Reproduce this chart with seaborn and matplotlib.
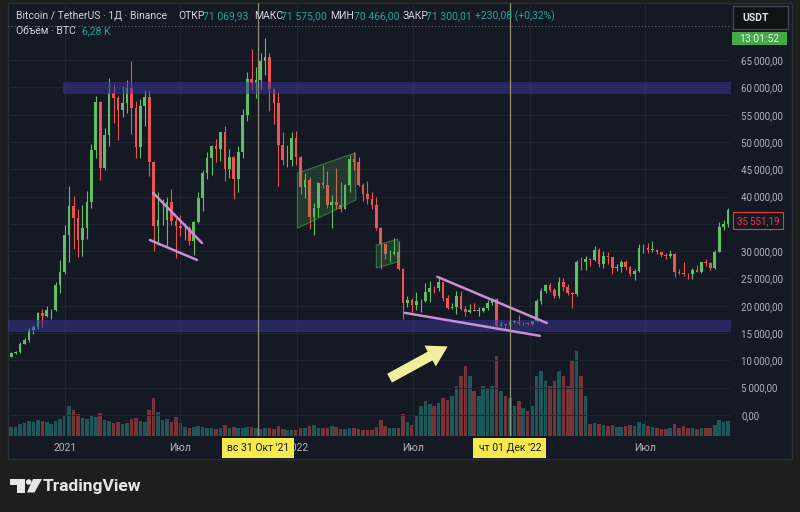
import numpy as np
import pandas as pd
import matplotlib
matplotlib.use("Agg")
import matplotlib.pyplot as plt
import matplotlib.dates as mdates
import matplotlib.transforms as mtransforms
from matplotlib.patches import Rectangle, Polygon, Ellipse
from matplotlib.ticker import FuncFormatter
import seaborn as sns

# BTC/USDT weekly candles (weeks start on Monday)
first_week = "2020-10-05"
first_open = 10670

close_2020 = [11380, 11500, 13030, 13800, 15480, 16050, 18700, 18180, 19150, 19250, 23800, 26270, 33000]
high_2020 = [11500, 11720, 13350, 14100, 15960, 16480, 18800, 19480, 19920, 19420, 24300, 28400, 34800]
low_2020 = [10530, 11200, 11400, 12980, 13290, 14850, 15800, 16200, 18000, 17600, 19000, 22400, 25900]

close_2021 = [38200, 36000, 32100, 34300, 39000, 48600, 57400, 45250, 51200, 59000, 58000, 55800, 57100,
              59800, 56200, 49000, 56600, 58200, 46400, 34700, 35700, 35800, 39000, 35500, 34700, 34200,
              34300, 31800, 35400, 39800, 44400, 47000, 49300, 48800, 51800, 45000, 47300, 43200, 48200,
              54900, 61500, 60800, 61300, 64900, 65500, 59700, 57200, 49400, 46700, 46700, 50800, 47300]
high_2021 = [41950, 40100, 37800, 38500, 40950, 49700, 58350, 57500, 52650, 61780, 60600, 58400, 60200,
             61300, 64850, 57500, 57900, 59500, 59600, 46600, 40800, 39500, 40000, 41300, 36000, 36600,
             35100, 34600, 35500, 40900, 44800, 48100, 49400, 50500, 51900, 52900, 48800, 47400, 49200,
             56100, 62900, 67000, 63700, 66300, 69000, 66300, 59900, 59200, 51900, 49500, 51900, 52100]
low_2021 = [28100, 30400, 28850, 29200, 32300, 37900, 47100, 43000, 44900, 49300, 53400, 50400, 54600,
            55400, 51500, 47000, 47100, 53000, 43800, 30000, 31200, 34800, 31000, 34800, 28800, 32700,
            32100, 31100, 29300, 35200, 37300, 43300, 43900, 46300, 46600, 42800, 43400, 39600, 40800,
            47100, 53900, 59500, 58000, 59500, 62300, 55600, 53300, 42000, 45700, 45500, 45600, 45700]

close_2022 = [41800, 43100, 36300, 37900, 42400, 42200, 38400, 39100, 38400, 37800, 42200, 46800, 46400,
              42100, 40400, 39500, 38500, 34300, 31300, 29400, 29400, 29900, 26800, 20500, 21000, 20200,
              20800, 20800, 22600, 23300, 23200, 24300, 21500, 19600, 19800, 21800, 19400, 18800, 19300,
              19100, 19100, 19600, 20600, 21300, 16300, 16700, 16500, 17100, 17100, 16800, 16840, 16620]
high_2022 = [47500, 44400, 43500, 38900, 42600, 45800, 44700, 40300, 45300, 42600, 42300, 47700, 48200,
             47200, 42500, 42900, 40800, 40000, 34400, 31400, 30200, 32400, 31800, 26900, 21800, 21500,
             22500, 21200, 24200, 24600, 23600, 25200, 24400, 21900, 20500, 22700, 22700, 19900, 20400,
             20500, 19700, 19700, 21000, 21500, 21500, 17200, 16900, 17400, 17400, 18400, 17000, 16970]
low_2022 = [40500, 39700, 34000, 32900, 36300, 41600, 38000, 34300, 37800, 37200, 38100, 40900, 44800,
            41900, 39200, 38600, 37700, 33800, 26700, 28600, 28100, 29300, 26500, 17600, 19700, 18800,
            19300, 18900, 20700, 20700, 22400, 22700, 20800, 19500, 19500, 18500, 19300, 18100, 18700,
            19000, 18200, 18900, 19200, 20100, 15600, 16200, 15500, 16000, 16900, 16500, 16400, 16400]

close_2023 = [17130, 20880, 22700, 23750, 22950, 21850, 24300, 23500, 22400, 22100, 28000, 27950, 28500,
              28300, 30300, 27600, 29200, 28900, 26900, 27100, 28100, 27100, 25800, 26300, 30500, 30600,
              30300, 30300, 29800, 29300, 29100, 29400, 26100, 26000, 25900, 25800, 26600, 26200, 28000,
              27900, 26900, 29900, 34500, 35000, 37500]
high_2023 = [17200, 21200, 23300, 23900, 24250, 23200, 25250, 25000, 23900, 22600, 28400, 28900, 29200,
             28800, 31000, 30500, 30000, 29800, 29000, 27600, 28400, 28400, 27200, 26800, 31400, 31300,
             31500, 31800, 30400, 29900, 29700, 30200, 29600, 26800, 28100, 26000, 26900, 27500, 28000,
             28600, 28000, 30300, 35300, 35800, 37950]
low_2023 = [16500, 17100, 20400, 22300, 22600, 21400, 21500, 22800, 21950, 19600, 21800, 26600, 26500,
            27300, 28200, 27100, 26950, 27700, 25800, 26400, 26100, 26500, 25400, 24800, 26200, 29600,
            29700, 29900, 29500, 28900, 28600, 28800, 25200, 25800, 25400, 24900, 24900, 26200, 26000,
            27200, 26600, 26800, 29800, 33900, 34500]

# average daily volume of each week, thousand BTC
vol_2020 = [45, 45, 60, 65, 75, 70, 80, 75, 70, 60, 75, 85, 100]
vol_2021 = [150, 130, 110, 90, 85, 100, 95, 115, 80, 75, 65, 70, 60, 65, 85, 90, 75, 70, 130, 190, 120, 80,
            85, 70, 95, 65, 45, 40, 45, 50, 45, 40, 38, 35, 40, 55, 40, 45, 40, 42, 45, 45, 38, 35, 38, 42,
            35, 48, 35, 32, 30, 30]
vol_2022 = [40, 38, 50, 55, 40, 42, 40, 48, 45, 35, 35, 40, 38, 35, 30, 30, 32, 45, 80, 50, 40, 38, 42, 110,
            70, 55, 100, 150, 175, 160, 150, 165, 190, 180, 200, 250, 300, 350, 300, 225, 200, 250, 240, 250,
            400, 225, 200, 190, 150, 175, 140, 125]
vol_2023 = [150, 300, 325, 275, 250, 275, 325, 300, 250, 375, 425, 300, 200, 60, 65, 60, 55, 50, 55, 45, 45,
            50, 55, 50, 70, 60, 50, 45, 40, 35, 35, 40, 60, 40, 50, 40, 40, 35, 40, 40, 40, 55, 80, 70, 75]

price_ticks = list(range(0, 65001, 5000))
tick_dates = ["2021-01-01", "2021-07-01", "2022-01-01", "2022-07-01", "2023-01-01", "2023-07-01"]
tick_labels = ["2021", "Июл", "2022", "Июл", "2023", "Июл"]
cross_dates = ["2021-10-31", "2022-12-01"]
cross_labels = ["вс 31 Окт '21", "чт 01 Дек '22"]
last_price = 71300.01
hover_price = 35551.19

header_parts = [(16, "Bitcoin / TetherUS · 1Д · Binance", 0), (178, "ОТКР", 0), (203, "71 069,93", 1),
                (254, "МАКС", 0), (281, "71 575,00", 1), (330, "МИН", 0), (354, "70 466,00", 1),
                (403, "ЗАКР", 0), (426, "71 300,01", 1), (475, "+230,08 (+0,32%)", 1)]
volume_parts = [(16, "Объём · BTC", 0), (82, "6,28 K", 1)]

# colours
OUTER = "#1e1e1e"
PANEL = "#151924"
GRID = "#222634"
TXT = "#b2b5be"
UP, DOWN = "#5fbf63", "#ef5350"
VOL_UP, VOL_DOWN = "#26a69a", "#ef5350"
ZONE = "#3a35a0"

close = np.array(close_2020 + close_2021 + close_2022 + close_2023, dtype=float)
high = np.array(high_2020 + high_2021 + high_2022 + high_2023, dtype=float)
low = np.array(low_2020 + low_2021 + low_2022 + low_2023, dtype=float)
volume = np.array(vol_2020 + vol_2021 + vol_2022 + vol_2023, dtype=float)
opens = np.concatenate([[first_open], close[:-1]])
high = np.maximum(high, np.maximum(opens, close))
low = np.minimum(low, np.minimum(opens, close))

weeks = pd.date_range(first_week, periods=len(close), freq="7D")
xs = mdates.date2num(weeks + pd.Timedelta(days=3))
up = close >= opens


def d(s):
    return mdates.date2num(pd.Timestamp(s))


W, H = 800, 512


def fx(px):
    return px / W


def fy(py):
    return 1 - py / H


sns.set_theme(style="dark")
plt.rcParams["font.family"] = ["Roboto", "DejaVu Sans"]

fig = plt.figure(figsize=(8, 5.12), dpi=100, facecolor=OUTER)
fig.patches.append(Rectangle((fx(8), fy(459)), (792 - 8) / W, (459 - 3) / H, transform=fig.transFigure,
                             facecolor=PANEL, edgecolor="#2a2e39", lw=1, zorder=-5))

pos = [fx(8), fy(436), (730 - 8) / W, (436 - 3) / H]
ax_v = fig.add_axes(pos)
ax = fig.add_axes(pos)
xlim = (d("2020-10-03"), d("2023-11-12"))

# volume pane
vol_df = pd.DataFrame({"x": xs, "vol": volume, "dir": np.where(up, "up", "down")})
sns.barplot(data=vol_df, x="x", y="vol", hue="dir", palette={"up": VOL_UP, "down": VOL_DOWN},
            native_scale=True, dodge=False, saturation=1, errorbar=None, legend=False,
            width=0.8, alpha=0.45, linewidth=0, ax=ax_v)
ax_v.set_xlim(xlim)
ax_v.set_ylim(0, 2165)
ax_v.set_axis_off()

# candles
colors = np.where(up, UP, DOWN)
ax.vlines(xs, low, high, colors=colors, lw=0.8, zorder=3)
body = np.maximum(np.abs(close - opens), 80)
ax.bar(xs, body, bottom=np.minimum(opens, close), width=4.2, color=colors, linewidth=0, zorder=4)

ax.patch.set_alpha(0)
for s in ax.spines.values():
    s.set_visible(False)
ax.set_xlim(xlim)
ax.set_ylim(-3850, 75460)
ax.set_xticks([d(s) for s in tick_dates])
ax.set_xticklabels(tick_labels)
ax.set_yticks(price_ticks)
ax.yaxis.tick_right()
ax.yaxis.set_major_formatter(FuncFormatter(
    lambda v, p: f"{v:,.2f}".replace(",", "\u2009").replace(".", ",")))
ax.tick_params(axis="x", colors=TXT, labelsize=7.5, length=0, pad=5)
ax.tick_params(axis="y", colors=TXT, labelsize=7, length=0, pad=8)
ax.grid(True, color=GRID, lw=0.7)
ax.set_axisbelow(True)
ax.set_xlabel("")
ax.set_ylabel("")

# last price line
ax.axhline(last_price, color="#6a6d78", lw=0.8, ls=(0, (1, 2)), zorder=2)

# support / resistance zones
ax.fill_between([d("2020-12-29"), d("2024-01-01")], 58800, 61000, color=ZONE, alpha=0.5, lw=0, zorder=5)
ax.fill_between([d("2020-09-01"), d("2024-01-01")], 15200, 17400, color=ZONE, alpha=0.5, lw=0, zorder=5)

# channels
box1 = [(d("2022-01-01"), 44300), (d("2022-04-02"), 48000), (d("2022-04-03"), 39400), (d("2022-01-01"), 34200)]
box2 = [(d("2022-05-05"), 31100), (d("2022-06-08"), 32200), (d("2022-06-09"), 28100), (d("2022-05-05"), 26900)]
for pts in (box1, box2):
    ax.add_patch(Polygon(pts, closed=True, facecolor=(0.3, 0.69, 0.31, 0.22),
                         edgecolor=(0.3, 0.69, 0.31, 0.55), lw=0.8, zorder=5))

# wedges
wedges = [
    (("2021-05-19", 40700), ("2021-08-04", 31500)),
    (("2021-05-14", 32050), ("2021-07-27", 28400)),
    (("2022-08-09", 25300), ("2023-01-28", 16850)),
    (("2022-06-19", 18700), ("2023-01-17", 14500)),
]
for (a_d, a_p), (b_d, b_p) in wedges:
    ax.plot([d(a_d), d(b_d)], [a_p, b_p], color="#c98fd6", lw=1.8, solid_capstyle="round", zorder=6)

ax.annotate("", xy=(d("2022-08-29"), 12800), xytext=(d("2022-05-22"), 6500),
            arrowprops=dict(arrowstyle="simple,head_length=0.8,head_width=0.95,tail_width=0.4",
                            color="#f3ee9c", lw=0, mutation_scale=18), zorder=7)

# crosshair lines and date labels
bt = mtransforms.blended_transform_factory(ax.transData, ax.transAxes)
for cd, cl in zip(cross_dates, cross_labels):
    ax.axvline(d(cd), color="#aaa57a", lw=0.9, alpha=0.85, zorder=6)
    ax.text(d(cd), -12 / 433, cl, transform=bt, ha="center", va="center", fontsize=7.5, color="#131722",
            clip_on=False, zorder=10, bbox=dict(boxstyle="square,pad=0.5", fc="#f7e94c", ec="none"))

# price scale labels
bt_y = mtransforms.blended_transform_factory(ax.transAxes, ax.transData)
ax.text((758 - 8) / 722, hover_price, f"{hover_price:,.2f}".replace(",", "\u2009").replace(".", ","),
        transform=bt_y, ha="center", va="center", fontsize=7, color="#f23645", clip_on=False, zorder=10,
        bbox=dict(boxstyle="square,pad=0.35", fc=PANEL, ec="#f23645", lw=0.8))

fig.patches.append(Rectangle((fx(733), fy(29)), 55 / W, 23 / H, transform=fig.transFigure,
                             facecolor="#111214", edgecolor="#434651", lw=1, zorder=5))
fig.text(fx(742), fy(18), "USDT", fontsize=7.5, fontweight="bold", color="#e0e3eb", va="center", zorder=6)
fig.patches.append(Rectangle((fx(732), fy(45)), 55 / W, 13 / H, transform=fig.transFigure,
                             facecolor="#43a848", edgecolor="none", zorder=5))
fig.text(fx(759.5), fy(38.5), "13:01:52", fontsize=7.5, color="#e8f5e9", ha="center", va="center", zorder=6)

# legend header
for x0, txt, kind in header_parts:
    fig.text(fx(x0), fy(16), txt, fontsize=7.5, color="#26a69a" if kind else "#d1d4dc", va="center")
for x0, txt, kind in volume_parts:
    fig.text(fx(x0), fy(31), txt, fontsize=7.5, color="#26a69a" if kind else "#d1d4dc", va="center")

# TradingView logo
logo = "#e6e6e6"
fig.patches.append(Polygon([(fx(10), fy(479)), (fx(25), fy(479)), (fx(25), fy(492.5)), (fx(17), fy(492.5)),
                            (fx(17), fy(484.5)), (fx(10), fy(484.5))], closed=True,
                           transform=fig.transFigure, facecolor=logo, edgecolor="none"))
fig.patches.append(Ellipse((fx(28.7), fy(482)), 5.6 / W, 5.6 / H, transform=fig.transFigure,
                           facecolor=logo, edgecolor="none"))
fig.patches.append(Polygon([(fx(33), fy(479)), (fx(42), fy(479)), (fx(34.5), fy(492.5)), (fx(27), fy(492.5))],
                           closed=True, transform=fig.transFigure, facecolor=logo, edgecolor="none"))
fig.text(fx(43), fy(487), "TradingView", fontsize=12.5, fontweight="semibold", color=logo, va="center")

fig.savefig("out.png", dpi=100, facecolor=fig.get_facecolor())
